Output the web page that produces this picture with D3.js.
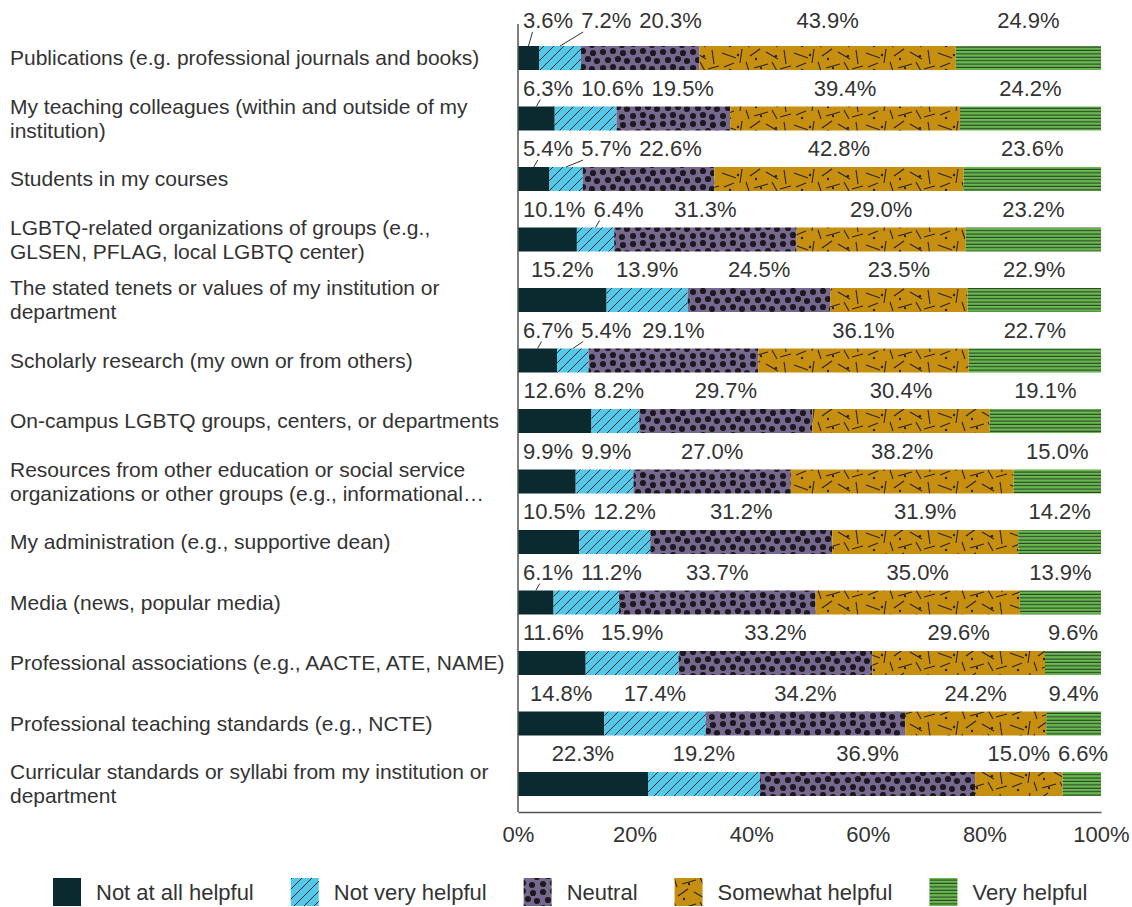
<!DOCTYPE html>
<html>
<head>
<meta charset="utf-8">
<script src="https://cdn.jsdelivr.net/npm/d3@7"></script>
<style>
  body { margin: 0; background: #fff; }
  svg { display: block; font-family: "Liberation Sans", Arial, sans-serif; }
</style>
</head>
<body>
<svg width="1132" height="907"></svg>
<script>
// categories, top to bottom ("\n" = line break in the label)
var categories = [
  "Publications (e.g. professional journals and books)",
  "My teaching colleagues (within and outside of my\ninstitution)",
  "Students in my courses",
  "LGBTQ-related organizations of groups (e.g.,\nGLSEN, PFLAG, local LGBTQ center)",
  "The stated tenets or values of my institution or\ndepartment",
  "Scholarly research (my own or from others)",
  "On-campus LGBTQ groups, centers, or departments",
  "Resources from other education or social service\norganizations or other groups (e.g., informational\u2026",
  "My administration (e.g., supportive dean)",
  "Media (news, popular media)",
  "Professional associations (e.g., AACTE, ATE, NAME)",
  "Professional teaching standards (e.g., NCTE)",
  "Curricular standards or syllabi from my institution or\ndepartment"
];

var seriesNames = ["Not at all helpful", "Not very helpful", "Neutral", "Somewhat helpful", "Very helpful"];

var notAtAll = [3.6, 6.3, 5.4, 10.1, 15.2, 6.7, 12.6, 9.9, 10.5, 6.1, 11.6, 14.8, 22.3];
var notVery  = [7.2, 10.6, 5.7, 6.4, 13.9, 5.4, 8.2, 9.9, 12.2, 11.2, 15.9, 17.4, 19.2];
var neutral  = [20.3, 19.5, 22.6, 31.3, 24.5, 29.1, 29.7, 27.0, 31.2, 33.7, 33.2, 34.2, 36.9];
var somewhat = [43.9, 39.4, 42.8, 29.0, 23.5, 36.1, 30.4, 38.2, 31.9, 35.0, 29.6, 24.2, 15.0];
var veryHelp = [24.9, 24.2, 23.6, 23.2, 22.9, 22.7, 19.1, 15.0, 14.2, 13.9, 9.6, 9.4, 6.6];

var tickValues = [0, 0.2, 0.4, 0.6, 0.8, 1];

var seriesValues = [notAtAll, notVery, neutral, somewhat, veryHelp];

var rows = categories.map(function(c, i){
  var r = {category: c};
  seriesNames.forEach(function(s, k){ r[s] = seriesValues[k][i]; });
  return r;
});

var svg = d3.select("svg");
var textCol = "#333";

// ---- patterns ----
var defs = svg.append("defs");
var fills = ["#0a2a30", "url(#p-diag)", "url(#p-dots)", "url(#p-dash)", "url(#p-lines)"];

var pd = defs.append("pattern").attr("id", "p-diag")
  .attr("patternUnits", "userSpaceOnUse").attr("width", 10).attr("height", 10);
pd.append("rect").attr("width", 10).attr("height", 10).attr("fill", "#54c8e8");
pd.append("path").attr("d", "M-1,11 L11,-1 M-3,3 L3,-3 M7,13 L13,7")
  .attr("stroke", "#1e2a2e").attr("stroke-width", 1);

var pdot = defs.append("pattern").attr("id", "p-dots")
  .attr("patternUnits", "userSpaceOnUse").attr("width", 30).attr("height", 24);
pdot.append("rect").attr("width", 30).attr("height", 24).attr("fill", "#77688f");
[[3,4],[13,3],[23,5],[8,12],[18,11],[27,13],[3,20],[13,19],[22,21]].forEach(function(p){
  pdot.append("circle").attr("cx", p[0]).attr("cy", p[1]).attr("r", 3.1).attr("fill", "#1c1a1f");
});

var pdash = defs.append("pattern").attr("id", "p-dash")
  .attr("patternUnits", "userSpaceOnUse").attr("width", 72).attr("height", 24);
pdash.append("rect").attr("width", 72).attr("height", 24).attr("fill", "#c68f10");
pdash.append("path")
  .attr("d", "M2,5 L16,10 M22,1 L20,15 M30,8 L40,1 M46,4 L58,11 M64,2 L66,16 " +
             "M4,19 L14,15 M26,14 L29,23 M34,20 L48,16 M52,14 L57,23 M60,21 L71,18")
  .attr("stroke", "#2a2418").attr("stroke-width", 1.1).attr("fill", "none");
[[18,7],[41,20],[56,8],[10,22],[36,11]].forEach(function(p){
  pdash.append("circle").attr("cx", p[0]).attr("cy", p[1]).attr("r", 1.2).attr("fill", "#2a2418");
});

var pl = defs.append("pattern").attr("id", "p-lines")
  .attr("patternUnits", "userSpaceOnUse").attr("width", 10).attr("height", 3.4);
pl.append("rect").attr("width", 10).attr("height", 3.4).attr("fill", "#66bb4c");
pl.append("rect").attr("y", 2.3).attr("width", 10).attr("height", 1.1).attr("fill", "#2e3e2c");

// ---- scales ----
var x = d3.scaleLinear().domain([0, 1]).range([518, 1101]);
var y = d3.scaleBand().domain(categories).range([22, 22 + 60.5 * categories.length]);
var barOff = 24, barH = 24;

var stack = d3.stack().keys(seriesNames).offset(d3.stackOffsetExpand);
var series = stack(rows);

// ---- bars ----
var groups = svg.append("g").selectAll("g").data(series).enter().append("g")
  .attr("fill", function(d, i){ return fills[i]; });

groups.selectAll("rect").data(function(d){ return d; }).enter().append("rect")
  .attr("x", function(d){ return x(d[0]); })
  .attr("y", function(d){ return y(d.data.category) + barOff; })
  .attr("width", function(d){ return x(d[1]) - x(d[0]); })
  .attr("height", barH);

// ---- value labels (centered, pushed right to avoid overlap) ----
var labelLayer = svg.append("g");
var gap = 8;
rows.forEach(function(r, i){
  var top = y(r.category) + barOff;
  var base = i === 0 ? top - 18 : top - 11;
  var prevRight = x(0) + 5 - gap;
  seriesNames.forEach(function(s, k){
    var seg = series[k].find(function(d){ return d.data === r; });
    var cx = x((seg[0] + seg[1]) / 2);
    var t = labelLayer.append("text")
      .attr("y", base)
      .attr("font-size", 22)
      .attr("fill", textCol)
      .text(d3.format(".1f")(r[s]) + "%");
    var w = t.node().getComputedTextLength();
    var left = Math.max(cx - w / 2, prevRight + gap);
    t.attr("x", left);
    prevRight = left + w;
    if (r[s] < 7.5 && k < seriesNames.length - 1) {
      labelLayer.append("line")
        .attr("x1", cx).attr("y1", top)
        .attr("x2", Math.max(cx + 4, left + 2)).attr("y2", base + 4)
        .attr("stroke", textCol).attr("stroke-width", 1);
    }
  });
});

// ---- category labels ----
var catG = svg.append("g");
categories.forEach(function(c){
  var lines = c.split("\n");
  var mid = y(c) + barOff + barH / 2;
  var t = catG.append("text")
    .attr("font-size", 21)
    .attr("fill", textCol);
  lines.forEach(function(l, j){
    t.append("tspan")
      .attr("x", 10)
      .attr("y", mid + (j - (lines.length - 1) / 2) * 24 + 7)
      .text(l);
  });
});

// ---- axes ----
var axisBottomY = 812;
svg.append("line")
  .attr("x1", x(0)).attr("x2", x(0)).attr("y1", 24).attr("y2", axisBottomY)
  .attr("stroke", "#555").attr("stroke-width", 1.5);
var xAxis = svg.append("g").attr("transform", "translate(0," + axisBottomY + ")")
  .call(d3.axisBottom(x).tickValues(tickValues).tickFormat(d3.format(".0%")).tickSize(0).tickPadding(14));
xAxis.select(".domain").attr("stroke", "#555").attr("stroke-width", 1.5);
xAxis.selectAll("text")
  .attr("font-size", 22)
  .attr("font-family", "Liberation Sans, Arial, sans-serif")
  .attr("fill", textCol);

// ---- legend ----
var legend = svg.append("g");
var lx = 53;
seriesNames.forEach(function(s, i){
  legend.append("rect")
    .attr("x", lx).attr("y", 878).attr("width", 28).attr("height", 28)
    .attr("fill", fills[i]);
  var t = legend.append("text")
    .attr("x", lx + 43).attr("y", 900)
    .attr("font-size", 22)
    .attr("fill", textCol)
    .text(s);
  lx += 43 + t.node().getComputedTextLength() + 37;
});
</script>
</body>
</html>
